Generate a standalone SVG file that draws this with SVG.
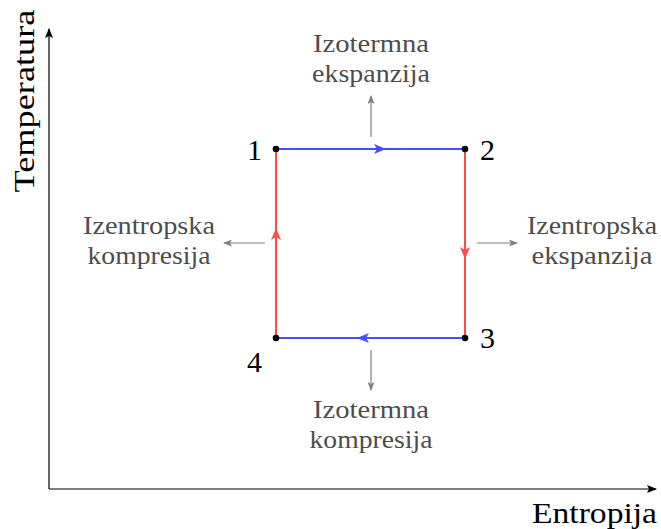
<svg xmlns="http://www.w3.org/2000/svg" width="661" height="529" viewBox="0 0 661 529" font-family="'Liberation Serif', 'Times New Roman', 'DejaVu Serif', serif">
<style>
.lbl{font-size:26px;fill:#4d4d4d;text-anchor:middle}
.num{font-size:30px;fill:#000}
.ax{stroke:#000;stroke-width:1.2;fill:none}
.gr{stroke:#808080;stroke-width:1.2;fill:none}
.bl{stroke:#4a4aff;stroke-width:2;fill:none}
.rd{stroke:#ff4a4a;stroke-width:2;fill:none}
</style>
<defs>
<marker id="ak" markerWidth="10" markerHeight="8" refX="9" refY="4" orient="auto" markerUnits="userSpaceOnUse"><path d="M0,0 L10,4 L0,8 L2,4 Z" fill="#000"/></marker>
<marker id="ag" markerWidth="9" markerHeight="7" refX="8" refY="3.5" orient="auto" markerUnits="userSpaceOnUse"><path d="M0,0 L9,3.5 L0,7 L2,3.5 Z" fill="#808080"/></marker>
</defs>
<g id="axes">
<line class="ax" x1="49" y1="489" x2="49" y2="29" marker-end="url(#ak)"/>
<line class="ax" x1="49" y1="489" x2="656" y2="489" marker-end="url(#ak)"/>
<text x="0" y="0" class="num" text-anchor="middle" textLength="183" lengthAdjust="spacingAndGlyphs" transform="translate(34,101) rotate(-90)">Temperatura</text>
<text x="657" y="523" class="num" text-anchor="end" textLength="125" lengthAdjust="spacingAndGlyphs">Entropija</text>
</g>
<g id="connectors">
<line class="bl" x1="276" y1="149" x2="465" y2="149"/>
<path d="M374,144 L386,149 L374,154 L377,149 Z" fill="#4a4aff"/>
<line class="rd" x1="465" y1="149" x2="465" y2="338"/>
<path d="M460,247 L465,259 L470,247 L465,250 Z" fill="#ff4a4a"/>
<line class="bl" x1="465" y1="338" x2="276" y2="338"/>
<path d="M369,333 L357,338 L369,343 L366,338 Z" fill="#4a4aff"/>
<line class="rd" x1="276" y1="338" x2="276" y2="149"/>
<path d="M271,240 L276,228 L281,240 L276,237 Z" fill="#ff4a4a"/>
<line class="gr" x1="371" y1="137" x2="371" y2="96" marker-end="url(#ag)"/>
<line class="gr" x1="371" y1="350" x2="371" y2="390" marker-end="url(#ag)"/>
<line class="gr" x1="265" y1="243" x2="224" y2="243" marker-end="url(#ag)"/>
<line class="gr" x1="477" y1="243" x2="517" y2="243" marker-end="url(#ag)"/>
</g>
<g id="n1"><circle cx="276" cy="149" r="3.3"/><text class="num" x="262" y="160" text-anchor="end">1</text></g>
<g id="n2"><circle cx="465" cy="149" r="3.3"/><text class="num" x="480" y="160">2</text></g>
<g id="n3"><circle cx="465" cy="338" r="3.3"/><text class="num" x="480" y="348">3</text></g>
<g id="n4"><circle cx="276" cy="338" r="3.3"/><text class="num" x="262" y="372" text-anchor="end">4</text></g>
<g id="t-top"><text class="lbl" x="371" y="52" textLength="116" lengthAdjust="spacingAndGlyphs">Izotermna</text><text class="lbl" x="371" y="82" textLength="118" lengthAdjust="spacingAndGlyphs">ekspanzija</text></g>
<g id="t-bottom"><text class="lbl" x="371" y="418" textLength="116" lengthAdjust="spacingAndGlyphs">Izotermna</text><text class="lbl" x="371" y="448" textLength="123" lengthAdjust="spacingAndGlyphs">kompresija</text></g>
<g id="t-left"><text class="lbl" x="149" y="234" textLength="132" lengthAdjust="spacingAndGlyphs">Izentropska</text><text class="lbl" x="149" y="264" textLength="123" lengthAdjust="spacingAndGlyphs">kompresija</text></g>
<g id="t-right"><text class="lbl" x="592" y="234" textLength="130" lengthAdjust="spacingAndGlyphs">Izentropska</text><text class="lbl" x="592" y="264" textLength="121" lengthAdjust="spacingAndGlyphs">ekspanzija</text></g>
</svg>
